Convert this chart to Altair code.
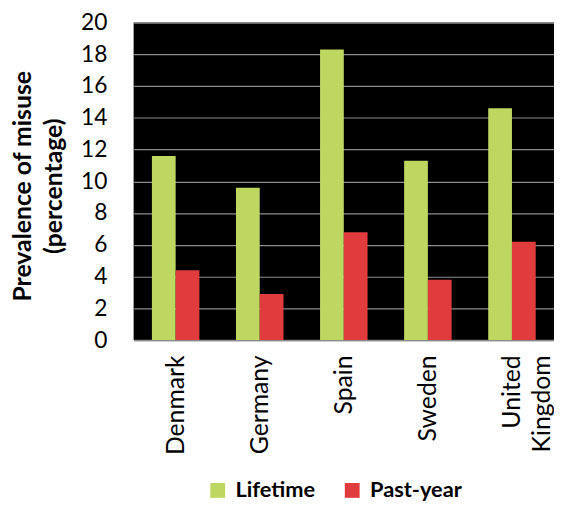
import altair as alt
import pandas as pd

countries = ["Denmark", "Germany", "Spain", "Sweden", "United Kingdom"]
lifetime = [11.6, 9.6, 18.3, 11.3, 14.6]
past_year = [4.4, 2.9, 6.8, 3.8, 6.2]
series = ["Lifetime", "Past-year"]
colors = ["#BDD760", "#E03C3E"]

rows = []
for c, l, p in zip(countries, lifetime, past_year):
    rows.append({"country": c, "series": "Lifetime", "value": l})
    rows.append({"country": c, "series": "Past-year", "value": p})
df = pd.DataFrame(rows)

FONT = "Lato"

chart = alt.Chart(df).mark_bar().encode(
    x=alt.X("country:N", sort=countries,
            scale=alt.Scale(paddingInner=0.435, paddingOuter=0.2175),
            axis=alt.Axis(title=None, labelAngle=-90, labelAlign="right",
                          labelBaseline="middle", labelPadding=15,
                          labelFontSize=25, labelFont=FONT, labelColor="black",
                          labelExpr="datum.label == 'United Kingdom' ? ['United', 'Kingdom'] : datum.label",
                          labelLineHeight=30, ticks=False,
                          domainColor="#8c8c8c", domainWidth=1.5)),
    xOffset=alt.XOffset("series:N", sort=series, scale=alt.Scale(paddingInner=0, paddingOuter=0)),
    y=alt.Y("value:Q", scale=alt.Scale(domain=[0, 20], nice=False),
            axis=alt.Axis(values=list(range(0, 21, 2)), title=["Prevalence of misuse", "(percentage)"],
                          titleFont=FONT, titleFontSize=25, titleFontWeight="bold",
                          titleColor="black", titleAngle=-90, titleAlign="center",
                          titleBaseline="middle", titleX=-112, titleY=165,
                          titleLineHeight=31,
                          labelFont=FONT, labelFontSize=23, labelColor="black",
                          labelPadding=27, ticks=False, domain=False,
                          grid=True, gridColor="#8c8c8c", gridWidth=1.2)),
    color=alt.Color("series:N", sort=series,
                    scale=alt.Scale(domain=series, range=colors),
                    legend=alt.Legend(title=None, orient="none", legendX=74, legendY=462,
                                      direction="horizontal", symbolType="square",
                                      symbolSize=225, symbolStrokeWidth=0,
                                      labelFont=FONT, labelFontSize=22, labelFontWeight="bold",
                                      labelColor="black", columnPadding=26, labelOffset=7)),
).properties(
    width=425, height=321,
    background="white",
    padding={"left": 127, "top": 12, "right": 0, "bottom": 164},
    autosize=alt.AutoSizeParams(type="none"),
).configure_view(fill="black", stroke=None)

chart.save("out.html", embed_options={"renderer": "svg", "actions": False})
